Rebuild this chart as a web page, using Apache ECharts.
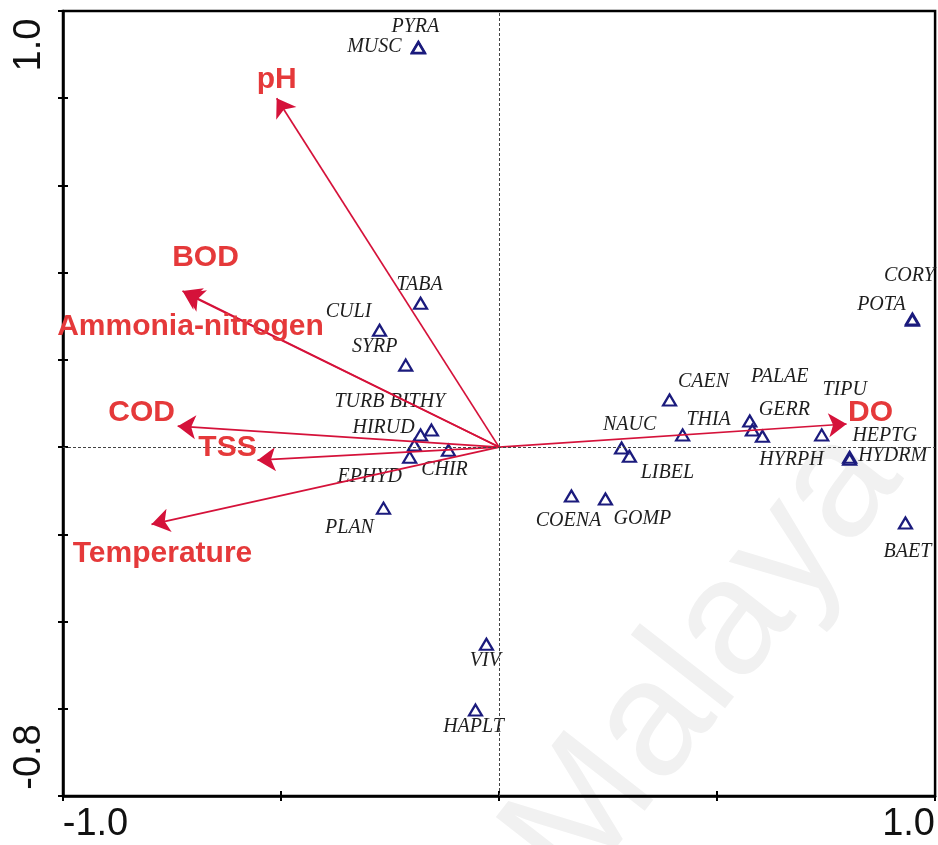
<!DOCTYPE html>
<html>
<head>
<meta charset="utf-8">
<script src="https://cdn.jsdelivr.net/npm/echarts@6/dist/echarts.min.js"></script>
<style>
  html, body { margin: 0; padding: 0; background: #fff; }
  #chart { width: 938px; height: 845px; }
</style>
</head>
<body>
<div id="chart"></div>
<script>
// ---- CCA ordination scores ----
// Taxa (species scores on axis 1 and axis 2)
const speciesNames = ['PYRA', 'MUSC', 'TABA', 'CULI', 'SYRP', 'TURB', 'BITHY', 'HIRUD', 'EPHYD', 'CHIR',
  'PLAN', 'VIV', 'HAPLT', 'COENA', 'GOMP', 'NAUC', 'LIBEL', 'CAEN', 'THIA', 'PALAE',
  'GERR', 'HYRPH', 'TIPU', 'HEPTG', 'HYDRM', 'CORY', 'POTA', 'BAET'];
const speciesX = [-0.185, -0.185, -0.180, -0.274, -0.214, -0.194, -0.155, -0.180, -0.205, -0.116,
  -0.265, -0.029, -0.054, 0.166, 0.244, 0.281, 0.299, 0.391, 0.421, 0.575,
  0.581, 0.604, 0.740, 0.804, 0.804, 0.948, 0.948, 0.932];
const speciesY = [0.917, 0.915, 0.330, 0.268, 0.188, 0.005, 0.039, 0.028, -0.023, -0.007,
  -0.140, -0.452, -0.603, -0.112, -0.119, -0.002, -0.021, 0.108, 0.028, 0.060,
  0.039, 0.025, 0.028, -0.023, -0.028, 0.294, 0.291, -0.174];

// Environmental variables (biplot arrow end points)
const envNames = ['pH', 'BOD', 'Ammonia-nitrogen', 'COD', 'TSS', 'Temperature', 'DO'];
const envX = [-0.510, -0.726, -0.719, -0.737, -0.554, -0.797, 0.797];
const envY = [0.800, 0.358, 0.353, 0.048, -0.030, -0.177, 0.053];

// Axis extents and the tick labels shown at the ends
const xRange = [-1.0, 1.0];
const xStep = 0.5;
const yRange = [-0.8, 1.0];
const yStep = 0.2;
const xEndLabels = ['-1.0', '1.0'];
const yEndLabels = ['-0.8', '1.0'];

// ---- label placement (pixel offsets from each mark) ----
const speciesLabelOffset = {
  PYRA: [-3, -20], MUSC: [-44, -1], TABA: [-1, -18], CULI: [-31, -18], SYRP: [-31, -18],
  TURB: [-55, -43], BITHY: [-14, -28], HIRUD: [-37, -7], EPHYD: [-40, 20], CHIR: [-4, 20],
  PLAN: [-34, 20], VIV: [-1, 17], HAPLT: [-2, 17], COENA: [-3, 25], GOMP: [37, 20],
  NAUC: [8, -23], LIBEL: [38, 16], CAEN: [34, -18], THIA: [26, -15], PALAE: [30, -44],
  GERR: [32, -20], HYRPH: [29, 24], TIPU: [23, -45], HEPTG: [35, -21], HYDRM: [43, -4],
  CORY: [-3, -43], POTA: [-31, -15], BAET: [2, 29]
};
const envLabelOffset = {
  'pH': [0, -18], 'BOD': [23, -33], 'Ammonia-nitrogen': [5, 34], 'COD': [-36, -13],
  'TSS': [-30, -12], 'Temperature': [11, 29], 'DO': [24, -11]
};

const SANS = '"Liberation Sans", Arial, sans-serif';
const SERIF = '"Liberation Serif", "Times New Roman", serif';
const TRI_COLOR = '#1b1b7d';
const ARROW_COLOR = '#d5123a';
const ENV_TEXT = '#e5393a';

const near = (a, b) => Math.abs(a - b) < 1e-6;
const tickFont = { fontSize: 38, fontFamily: SANS, color: '#111' };

function xLabel(v) {
  if (near(v, xRange[0])) return '{l|' + xEndLabels[0] + '}';
  if (near(v, xRange[1])) return '{r|' + xEndLabels[1] + '}';
  return '';
}
function yLabel(v) {
  if (near(v, yRange[0])) return '{b|' + yEndLabels[0] + '}';
  if (near(v, yRange[1])) return '{t|' + yEndLabels[1] + '}';
  return '';
}

const baseAxis = {
  type: 'value',
  splitLine: { show: false },
  axisLine: { show: true, onZero: false, lineStyle: { color: '#000', width: 2.5 } },
  axisTick: { show: true, inside: false, length: 5, lineStyle: { color: '#000', width: 2 } }
};
// Second copies carry only inward ticks so each tick crosses the axis line
const innerTicks = {
  type: 'value',
  splitLine: { show: false },
  axisLine: { show: false, onZero: false },
  axisLabel: { show: false },
  axisTick: { show: true, inside: true, length: 5, lineStyle: { color: '#000', width: 2 } }
};

const speciesData = speciesNames.map((n, i) => ({
  name: n,
  value: [speciesX[i], speciesY[i]],
  label: { offset: speciesLabelOffset[n] }
}));
const arrowData = envNames.map((n, i) => ({ name: n, coords: [[0, 0], [envX[i], envY[i]]] }));
const envLabelData = envNames.map((n, i) => ({
  name: n,
  value: [envX[i], envY[i]],
  label: { offset: envLabelOffset[n] }
}));

const chart = echarts.init(document.getElementById('chart'), null, { renderer: 'canvas' });
chart.setOption({
  animation: false,
  backgroundColor: '#fff',
  grid: { left: 63, right: 2, top: 11, bottom: 49, show: true, borderColor: '#000', borderWidth: 2.5, backgroundColor: 'transparent' },
  graphic: [{
    type: 'text',
    silent: true,
    z: -5,
    x: 705,
    y: 660,
    rotation: 52 * Math.PI / 180,
    style: {
      text: 'Malaya',
      font: 'normal 165px ' + SANS,
      fill: '#f1f1f1',
      align: 'center',
      verticalAlign: 'middle',
      textAlign: 'center',
      textVerticalAlign: 'middle'
    }
  }],
  xAxis: [
    Object.assign({}, baseAxis, {
      min: xRange[0], max: xRange[1], interval: xStep, position: 'bottom',
      axisLabel: {
        show: true, margin: 10, formatter: xLabel, ...tickFont,
        rich: {
          l: Object.assign({ padding: [0, 0, 0, 65] }, tickFont),
          r: Object.assign({ padding: [0, 53, 0, 0] }, tickFont)
        }
      }
    }),
    Object.assign({}, innerTicks, { min: xRange[0], max: xRange[1], interval: xStep, position: 'bottom' })
  ],
  yAxis: [
    Object.assign({}, baseAxis, {
      min: yRange[0], max: yRange[1], interval: yStep, position: 'left',
      axisLabel: {
        show: true, margin: 14, rotate: 90, formatter: yLabel, ...tickFont,
        rich: {
          t: Object.assign({ padding: [0, 68, 0, 0] }, tickFont),
          b: Object.assign({ padding: [0, 0, 0, 78] }, tickFont)
        }
      }
    }),
    Object.assign({}, innerTicks, { min: yRange[0], max: yRange[1], interval: yStep, position: 'left' })
  ],
  series: [
    {
      type: 'scatter',
      name: 'taxa',
      silent: true,
      z: 3,
      symbol: 'triangle',
      symbolSize: [13, 11],
      itemStyle: { color: 'rgba(255,255,255,0)', borderColor: TRI_COLOR, borderWidth: 2.2, opacity: 1 },
      label: {
        show: true,
        position: 'inside',
        formatter: p => p.name,
        fontFamily: SERIF,
        fontStyle: 'italic',
        fontSize: 20,
        color: '#1e1e1e'
      },
      emphasis: { disabled: true },
      data: speciesData,
      markLine: {
        silent: true,
        symbol: 'none',
        label: { show: false },
        lineStyle: { color: '#444', width: 1, type: [3, 2] },
        data: [{ xAxis: 0 }, { yAxis: 0 }]
      }
    },
    {
      type: 'lines',
      name: 'environment',
      coordinateSystem: 'cartesian2d',
      silent: true,
      z: 4,
      symbol: ['none', 'arrow'],
      symbolSize: [12, 18],
      lineStyle: { color: ARROW_COLOR, width: 1.7, opacity: 1, curveness: 0 },
      data: arrowData
    },
    {
      type: 'scatter',
      name: 'environment labels',
      silent: true,
      z: 5,
      symbolSize: 0,
      itemStyle: { opacity: 1 },
      label: {
        show: true,
        position: 'inside',
        formatter: p => p.name,
        fontFamily: SANS,
        fontWeight: 'bold',
        fontSize: 30,
        color: ENV_TEXT
      },
      emphasis: { disabled: true },
      data: envLabelData
    }
  ]
});
</script>
</body>
</html>
